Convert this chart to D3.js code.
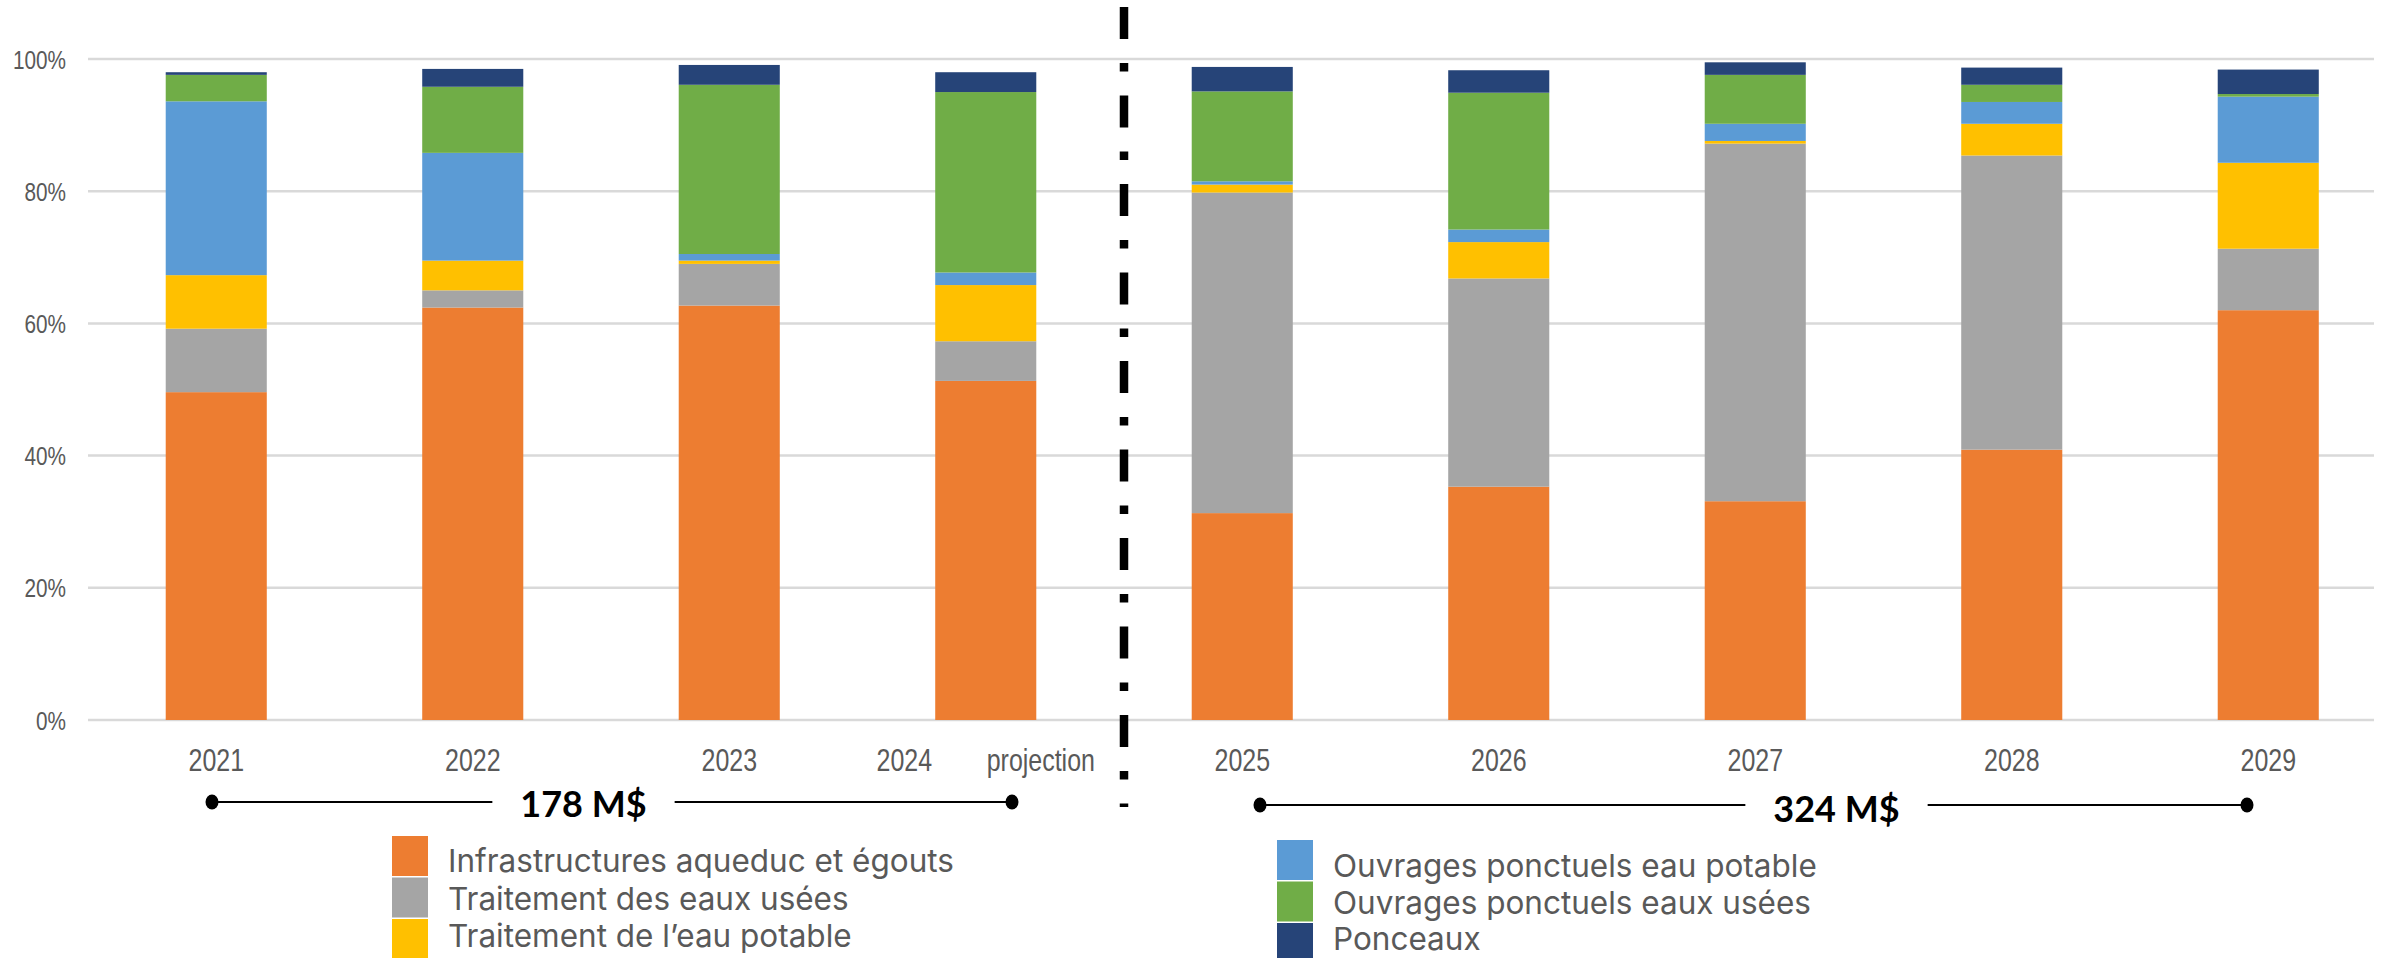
<!DOCTYPE html>
<html lang="fr">
<head>
<meta charset="utf-8">
<script src="https://cdn.jsdelivr.net/npm/d3@7"></script>
<style>
  html, body { margin: 0; padding: 0; background: #ffffff; }
  svg { display: block; }
  .tick-y text, .tick-x text { font-family: "Liberation Sans", Arial, sans-serif; fill: #595959; }
  .legend text { font-family: Inter, Lato, "Noto Sans", sans-serif; fill: #595959; }
  .bracket text { font-family: Lato, "Noto Sans", sans-serif; font-weight: 700; fill: #000; }
</style>
</head>
<body>
<svg id="chart" width="2392" height="958"></svg>
<script>
// Années (2024 = projection)
const categories = ["2021", "2022", "2023", "2024 projection", "2025", "2026", "2027", "2028", "2029"];

// Répartition en % par catégorie d'investissement
const infraAqueducEgouts   = [49.6, 62.4, 62.7, 51.3, 31.3, 35.3, 33.1, 40.9, 62.0];
const traitementEauxUsees  = [ 9.6,  2.6,  6.3,  6.0, 48.5, 31.5, 54.1, 44.5,  9.3];
const traitementEauPotable = [ 8.1,  4.5,  0.5,  8.5,  1.2,  5.5,  0.4,  4.8, 13.0];
const ouvragesEauPotable   = [26.3, 16.3,  1.0,  1.9,  0.5,  1.9,  2.6,  3.3, 10.0];
const ouvragesEauxUsees    = [ 4.0, 10.0, 25.6, 27.3, 13.6, 20.7,  7.4,  2.6,  0.4];
const ponceaux             = [ 0.4,  2.7,  3.0,  3.0,  3.7,  3.4,  1.9,  2.6,  3.7];

const seriesNames = [
  "Infrastructures aqueduc et égouts",
  "Traitement des eaux usées",
  "Traitement de l’eau potable",
  "Ouvrages ponctuels eau potable",
  "Ouvrages ponctuels eaux usées",
  "Ponceaux"
];
const seriesValues = [infraAqueducEgouts, traitementEauxUsees, traitementEauPotable,
                      ouvragesEauPotable, ouvragesEauxUsees, ponceaux];

const yTicks = [0, 20, 40, 60, 80, 100];

// Montants totaux par période
const periodLabels = ["178 M$", "324 M$"];

// ---- presentation ----
const colors = ["#ED7D31", "#A5A5A5", "#FFC000", "#5B9BD5", "#70AD47", "#264478"];

const svg = d3.select("#chart");

const plot = { left: 88, right: 2374, top: 59, bottom: 720 };

const x = d3.scaleBand()
  .domain(categories)
  .range([88, 2396.5])
  .paddingInner(0.606)
  .paddingOuter(0.303);

const y = d3.scaleLinear().domain([0, 100]).range([plot.bottom, plot.top]);

// gridlines
svg.append("g")
  .selectAll("line")
  .data(yTicks)
  .join("line")
  .attr("x1", plot.left).attr("x2", plot.right)
  .attr("y1", d => y(d)).attr("y2", d => y(d))
  .attr("stroke", "#d9d9d9")
  .attr("stroke-width", 2.5);

// y axis labels (condensed)
const yAxis = d3.axisLeft(y).tickValues(yTicks).tickFormat(d => d + "%").tickSize(0).tickPadding(0);
svg.append("g")
  .attr("class", "tick-y")
  .attr("transform", "translate(66,0)")
  .call(yAxis)
  .call(g => g.select(".domain").remove())
  .call(g => g.selectAll("text")
    .attr("font-size", 25)
    .attr("x", 0)
    .attr("dy", "0.36em")
    .attr("transform", "scale(0.83,1)"));

// stacked bars
const rows = categories.map((c, i) => {
  const r = { cat: c };
  seriesNames.forEach((s, k) => { r[s] = seriesValues[k][i]; });
  return r;
});
const stacked = d3.stack().keys(seriesNames)(rows);

svg.append("g")
  .selectAll("g")
  .data(stacked)
  .join("g")
  .attr("fill", (d, i) => colors[i])
  .selectAll("rect")
  .data(d => d)
  .join("rect")
  .attr("x", d => x(d.data.cat))
  .attr("width", x.bandwidth())
  .attr("y", d => y(d[1]))
  .attr("height", d => y(d[0]) - y(d[1]));

// x axis labels (condensed)
const xAxis = d3.axisBottom(x).tickSize(0).tickPadding(0).tickFormat(() => "");
const xg = svg.append("g")
  .attr("class", "tick-x")
  .attr("transform", "translate(0,771)")
  .call(xAxis)
  .call(g => g.select(".domain").remove());
xg.selectAll(".tick text")
  .attr("font-size", 32)
  .attr("dy", 0)
  .attr("y", 0)
  .attr("transform", "scale(0.78,1)")
  .each(function (d) {
    const parts = d.split(" ");
    const t = d3.select(this);
    parts.forEach((p, i) => {
      t.append("tspan").attr("dx", i === 0 ? 0 : 70).text(p);
    });
  });

// separator between realised/projected period and plan period
svg.append("line")
  .attr("x1", 1124).attr("x2", 1124)
  .attr("y1", 7).attr("y2", 807)
  .attr("stroke", "#000")
  .attr("stroke-width", 8.5)
  .attr("stroke-dasharray", "32,24,8.5,24");

// period totals with brackets
const brackets = [
  { label: periodLabels[0], x1: 212, x2: 1012, lineY: 802, textX: 583.5, baseY: 817 },
  { label: periodLabels[1], x1: 1260, x2: 2247, lineY: 805, textX: 1836.5, baseY: 822 }
];
const bg = svg.append("g").attr("class", "bracket")
  .selectAll("g").data(brackets).join("g");
bg.each(function (b) {
  const g = d3.select(this);
  const t = g.append("text")
    .attr("x", b.textX).attr("y", b.baseY)
    .attr("text-anchor", "middle")
    .attr("font-size", 36)
    .text(b.label);
  const w = t.node().getComputedTextLength();
  const gap = 28;
  g.append("line")
    .attr("x1", b.x1).attr("x2", b.textX - w / 2 - gap)
    .attr("y1", b.lineY).attr("y2", b.lineY)
    .attr("stroke", "#000").attr("stroke-width", 2);
  g.append("line")
    .attr("x1", b.textX + w / 2 + gap).attr("x2", b.x2)
    .attr("y1", b.lineY).attr("y2", b.lineY)
    .attr("stroke", "#000").attr("stroke-width", 2);
  g.selectAll("ellipse").data([b.x1, b.x2]).join("ellipse")
    .attr("cx", d => d).attr("cy", b.lineY)
    .attr("rx", 6.5).attr("ry", 7.5)
    .attr("fill", "#000");
});

// legend in two columns
const legendCols = [
  { x: 392, top: 836, textBase: [872, 910, 947], items: [0, 1, 2] },
  { x: 1277, top: 840, textBase: [877, 914, 950], items: [3, 4, 5] }
];
const lg = svg.append("g").attr("class", "legend");
legendCols.forEach(col => {
  col.items.forEach((k, j) => {
    const yy = col.top + j * 41.5;
    lg.append("rect")
      .attr("x", col.x).attr("y", yy)
      .attr("width", 36).attr("height", 40)
      .attr("fill", colors[k]);
    lg.append("text")
      .attr("x", col.x + 56).attr("y", col.textBase[j])
      .attr("font-size", 31.5)
      .text(seriesNames[k]);
  });
});
</script>
</body>
</html>
